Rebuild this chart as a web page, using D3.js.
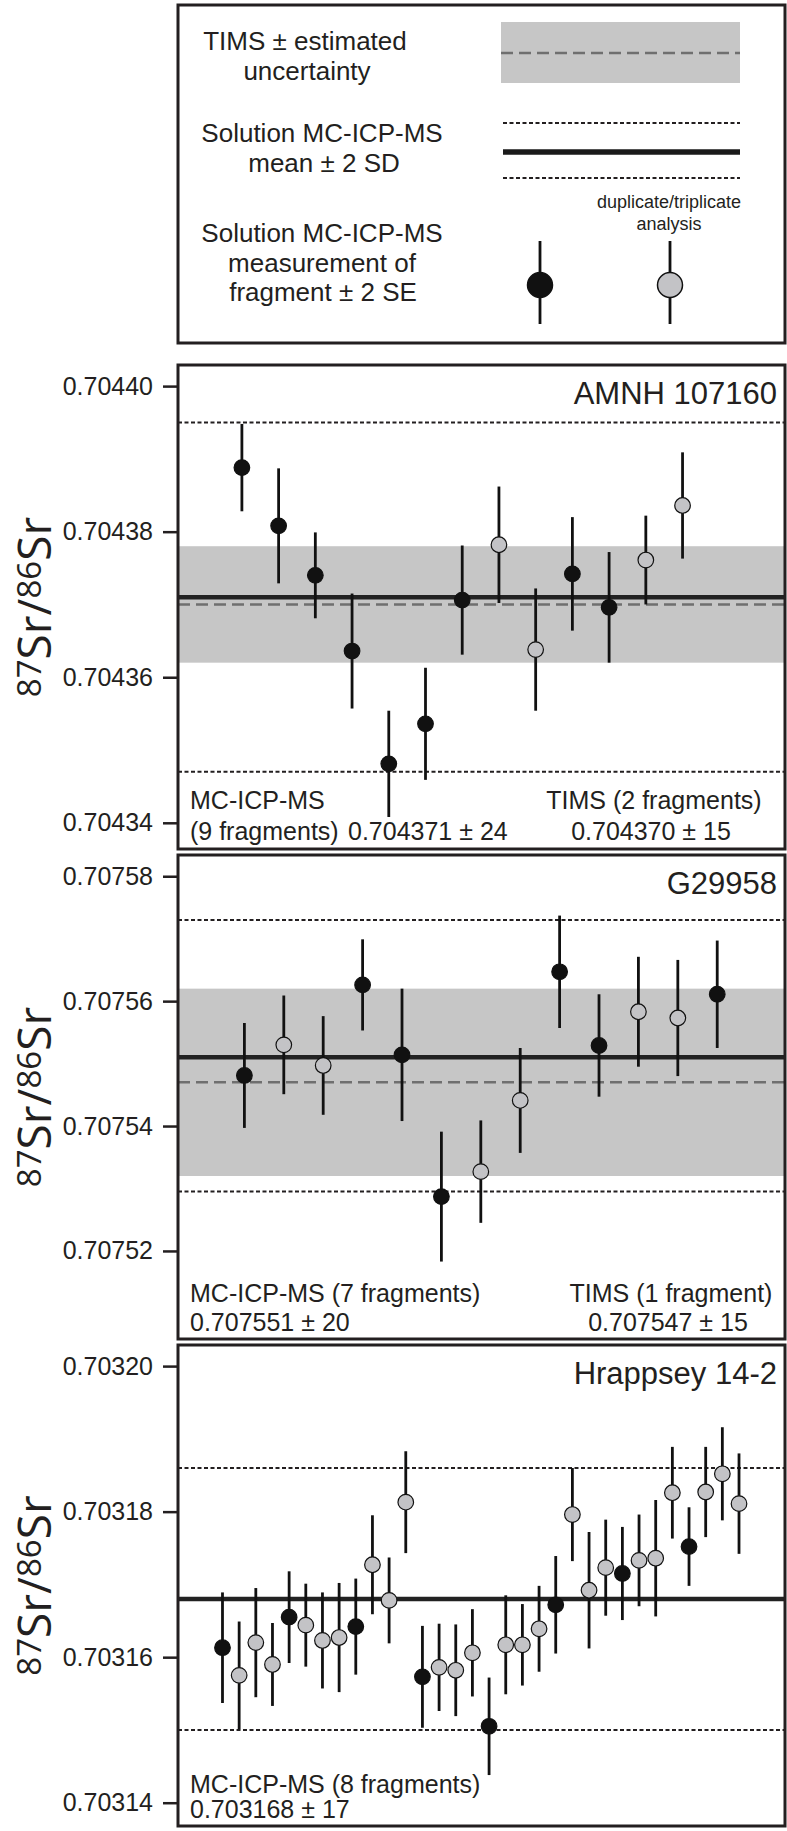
<!DOCTYPE html>
<html>
<head>
<meta charset="utf-8">
<script src="https://cdn.jsdelivr.net/npm/d3@7"></script>
<style>
  body { margin: 0; background: #fff; }
  text { font-family: "Liberation Sans", Arial, Helvetica, sans-serif; fill: #231f20; }
</style>
</head>
<body>
<script>
// canvas
var width = 787;
var height = 1831;
var left = 178, right = 785;
var ink = "#231f20";

// ---- AMNH 107160 ----
var amnhValues = [0.7043888, 0.7043808, 0.7043740, 0.7043636, 0.7043481, 0.7043536, 0.7043706,
                  0.7043782, 0.7043638, 0.7043742, 0.7043696, 0.7043761, 0.7043836];
var amnhErrors = [0.0000060, 0.0000079, 0.0000059, 0.0000079, 0.0000073, 0.0000077, 0.0000075,
                  0.0000080, 0.0000084, 0.0000078, 0.0000076, 0.0000061, 0.0000073];
var amnhRepeat = [0, 0, 0, 0, 0, 0, 0, 1, 1, 0, 0, 1, 1];
var amnhTicks = [0.70434, 0.70436, 0.70438, 0.70440];
var amnhDomain = [0.7043364, 0.7044029];
var amnhMean = 0.704371;
var amnhSD = [0.704347, 0.704395];
var amnhTims = 0.704370;
var amnhTimsBand = [0.704362, 0.704378];

// ---- G29958 ----
var gValues = [0.7075481, 0.7075530, 0.7075497, 0.7075626, 0.7075514, 0.7075287, 0.7075327,
               0.7075441, 0.7075647, 0.7075529, 0.7075583, 0.7075573, 0.7075611];
var gErrors = [0.0000084, 0.0000079, 0.0000079, 0.0000073, 0.0000106, 0.0000104, 0.0000082,
               0.0000084, 0.0000090, 0.0000082, 0.0000088, 0.0000093, 0.0000086];
var gRepeat = [0, 1, 1, 0, 0, 0, 1, 1, 0, 0, 1, 1, 0];
var gTicks = [0.70752, 0.70754, 0.70756, 0.70758];
var gDomain = [0.7075059, 0.7075834];
var gMean = 0.707551;
var gSD = [0.7075295, 0.7075730];
var gTims = 0.707547;
var gTimsBand = [0.707532, 0.707562];

// ---- Hrappsey 14-2 ----
var hValues = [0.7031613, 0.7031575, 0.7031620, 0.7031590, 0.7031655, 0.7031644, 0.7031623, 0.7031627,
               0.7031642, 0.7031727, 0.7031678, 0.7031813, 0.7031573, 0.7031586, 0.7031582, 0.7031606,
               0.7031505, 0.7031617, 0.7031617, 0.7031639, 0.7031672, 0.7031796, 0.7031692, 0.7031723,
               0.7031715, 0.7031733, 0.7031736, 0.7031826, 0.7031752, 0.7031827, 0.7031852, 0.7031811];
var hErrors = [0.0000076, 0.0000074, 0.0000075, 0.0000057, 0.0000063, 0.0000057, 0.0000066, 0.0000075,
               0.0000066, 0.0000068, 0.0000059, 0.0000070, 0.0000070, 0.0000060, 0.0000063, 0.0000060,
               0.0000067, 0.0000068, 0.0000056, 0.0000059, 0.0000067, 0.0000064, 0.0000080, 0.0000066,
               0.0000064, 0.0000063, 0.0000080, 0.0000063, 0.0000054, 0.0000062, 0.0000064, 0.0000069];
var hRepeat = [0, 1, 1, 1, 0, 1, 1, 1, 0, 1, 1, 1, 0, 1, 1, 1,
               0, 1, 1, 1, 0, 1, 1, 1, 0, 1, 1, 1, 0, 1, 1, 1];
var hTicks = [0.70314, 0.70316, 0.70318, 0.70320];
var hDomain = [0.7031368, 0.7032029];
var hMean = 0.703168;
var hSD = [0.703150, 0.703186];

// Create the SVG canvas
var svg = d3.select("body")
            .append("svg")
            .attr("width", width)
            .attr("height", height);

// panel setup, built from the arrays above
var panels = [
  { name: "AMNH 107160", values: amnhValues, errors: amnhErrors, repeat: amnhRepeat,
    ticks: amnhTicks, domain: amnhDomain, mean: amnhMean, sd: amnhSD,
    tims: amnhTims, band: amnhTimsBand, xDomain: [-0.74, 15.79], top: 365, bottom: 849,
    notes: [
      { t: "MC-ICP-MS", x: 190, y: 809, a: "start" },
      { t: "(9 fragments)", x: 190, y: 840, a: "start" },
      { t: "0.704371 \u00b1 24", x: 348, y: 840, a: "start" },
      { t: "TIMS (2 fragments)", x: 654, y: 809, a: "middle" },
      { t: "0.704370 \u00b1 15", x: 651, y: 840, a: "middle" }
    ] },
  { name: "G29958", values: gValues, errors: gErrors, repeat: gRepeat,
    ticks: gTicks, domain: gDomain, mean: gMean, sd: gSD,
    tims: gTims, band: gTimsBand, xDomain: [-0.685, 14.72], top: 855, bottom: 1339,
    notes: [
      { t: "MC-ICP-MS (7 fragments)", x: 190, y: 1302, a: "start" },
      { t: "0.707551 \u00b1 20", x: 190, y: 1331, a: "start" },
      { t: "TIMS (1 fragment)", x: 671, y: 1302, a: "middle" },
      { t: "0.707547 \u00b1 15", x: 668, y: 1331, a: "middle" }
    ] },
  { name: "Hrappsey 14-2", values: hValues, errors: hErrors, repeat: hRepeat,
    ticks: hTicks, domain: hDomain, mean: hMean, sd: hSD,
    tims: null, band: null, xDomain: [-1.67, 34.76], top: 1345, bottom: 1826,
    notes: [
      { t: "MC-ICP-MS (8 fragments)", x: 190, y: 1793, a: "start" },
      { t: "0.703168 \u00b1 17", x: 190, y: 1818, a: "start" }
    ] }
];

panels.forEach(function(p) {
  var g = svg.append("g");
  var x = d3.scaleLinear().domain(p.xDomain).range([left, right]);
  var y = d3.scaleLinear().domain(p.domain).range([p.bottom, p.top]);

  // TIMS band
  if (p.band) {
    g.append("rect")
     .attr("x", left).attr("width", right - left)
     .attr("y", y(p.band[1])).attr("height", y(p.band[0]) - y(p.band[1]))
     .attr("fill", "#c6c6c6");
  }

  // 2 SD lines
  g.selectAll(".sd")
   .data(p.sd)
   .enter()
   .append("line")
   .attr("x1", left).attr("x2", right)
   .attr("y1", function(d) { return y(d); })
   .attr("y2", function(d) { return y(d); })
   .attr("stroke", ink).attr("stroke-width", 2)
   .attr("stroke-dasharray", "4,2.5");

  // mean line
  g.append("line")
   .attr("x1", left).attr("x2", right)
   .attr("y1", y(p.mean)).attr("y2", y(p.mean))
   .attr("stroke", "#222").attr("stroke-width", 4.5);

  // TIMS value
  if (p.tims != null) {
    g.append("line")
     .attr("x1", left).attr("x2", right)
     .attr("y1", y(p.tims)).attr("y2", y(p.tims))
     .attr("stroke", "#6f6f6f").attr("stroke-width", 2.5)
     .attr("stroke-dasharray", "12,6");
  }

  var pts = p.values.map(function(v, i) {
    return { i: i + 1, v: v, e: p.errors[i], rep: p.repeat[i] };
  });

  // error bars
  g.selectAll(".bar")
   .data(pts)
   .enter()
   .append("line")
   .attr("x1", function(d) { return x(d.i); })
   .attr("x2", function(d) { return x(d.i); })
   .attr("y1", function(d) { return y(d.v - d.e); })
   .attr("y2", function(d) { return y(d.v + d.e); })
   .attr("stroke", "#111").attr("stroke-width", 2.8);

  // markers
  g.selectAll(".pt")
   .data(pts)
   .enter()
   .append("circle")
   .attr("cx", function(d) { return x(d.i); })
   .attr("cy", function(d) { return y(d.v); })
   .attr("r", 7.8)
   .attr("fill", function(d) { return d.rep ? "#c3c3c6" : "#111"; })
   .attr("stroke", "#111").attr("stroke-width", 1.2);

  // frame
  g.append("rect")
   .attr("x", left).attr("y", p.top)
   .attr("width", right - left).attr("height", p.bottom - p.top)
   .attr("fill", "none").attr("stroke", ink).attr("stroke-width", 3);

  // y axis
  var axis = g.append("g")
   .attr("transform", "translate(" + left + ",0)")
   .call(d3.axisLeft(y).tickValues(p.ticks).tickSize(15).tickPadding(10).tickFormat(d3.format(".5f")));
  axis.select(".domain").remove();
  axis.selectAll("line").attr("stroke", ink).attr("stroke-width", 2.5);
  axis.selectAll("text").attr("font-size", 25).attr("fill", ink)
      .style("font-family", "'Liberation Sans', Arial, sans-serif");

  // sample name
  g.append("text")
   .attr("x", 777).attr("y", p.top + 39)
   .attr("text-anchor", "end")
   .attr("font-size", 31)
   .text(p.name);

  // notes
  g.selectAll(".note")
   .data(p.notes)
   .enter()
   .append("text")
   .attr("x", function(d) { return d.x; })
   .attr("y", function(d) { return d.y; })
   .attr("text-anchor", function(d) { return d.a; })
   .attr("font-size", 25)
   .text(function(d) { return d.t; });

  // y label 87Sr/86Sr
  var lab = g.append("text")
   .attr("transform", "translate(51," + ((p.top + p.bottom) / 2) + ") rotate(-90)")
   .attr("text-anchor", "middle")
   .style("font-family", "'Open Sans', 'Noto Sans', sans-serif")
   .attr("font-size", 46);
  lab.append("tspan").attr("font-size", 33).attr("dy", -10).text("87");
  lab.append("tspan").attr("dy", 10).text("Sr/");
  lab.append("tspan").attr("font-size", 33).attr("dy", -10).text("86");
  lab.append("tspan").attr("dy", 10).text("Sr");
});

// ---- legend box ----
var leg = svg.append("g");
leg.append("rect")
   .attr("x", left).attr("y", 5)
   .attr("width", right - left).attr("height", 338)
   .attr("fill", "none").attr("stroke", ink).attr("stroke-width", 3);

var legText = [
  { t: "TIMS \u00b1 estimated", x: 305, y: 50 },
  { t: "uncertainty", x: 307, y: 80 },
  { t: "Solution MC-ICP-MS", x: 322, y: 142 },
  { t: "mean \u00b1 2 SD", x: 324, y: 172 },
  { t: "Solution MC-ICP-MS", x: 322, y: 242 },
  { t: "measurement of", x: 322, y: 272 },
  { t: "fragment \u00b1 2 SE", x: 323, y: 301 }
];
leg.selectAll(".lt")
   .data(legText)
   .enter()
   .append("text")
   .attr("x", function(d) { return d.x; })
   .attr("y", function(d) { return d.y; })
   .attr("text-anchor", "middle")
   .attr("font-size", 26)
   .text(function(d) { return d.t; });

leg.selectAll(".small")
   .data(["duplicate/triplicate", "analysis"])
   .enter()
   .append("text")
   .attr("x", 669)
   .attr("y", function(d, i) { return 208 + i * 22; })
   .attr("text-anchor", "middle")
   .attr("font-size", 18)
   .text(function(d) { return d; });

// TIMS swatch
leg.append("rect").attr("x", 501).attr("y", 22).attr("width", 239).attr("height", 61).attr("fill", "#c6c6c6");
leg.append("line").attr("x1", 501).attr("x2", 740).attr("y1", 53).attr("y2", 53)
   .attr("stroke", "#6f6f6f").attr("stroke-width", 2.5).attr("stroke-dasharray", "12,6");

// mean +- 2SD swatch
leg.selectAll(".sdl")
   .data([123, 178])
   .enter()
   .append("line")
   .attr("x1", 503).attr("x2", 740)
   .attr("y1", function(d) { return d; }).attr("y2", function(d) { return d; })
   .attr("stroke", ink).attr("stroke-width", 2).attr("stroke-dasharray", "4,2.5");
leg.append("line").attr("x1", 503).attr("x2", 740).attr("y1", 152).attr("y2", 152)
   .attr("stroke", "#1a1a1a").attr("stroke-width", 5.5);

// marker swatches
leg.selectAll(".mk")
   .data([{ x: 540, fill: "#111" }, { x: 670, fill: "#c3c3c6" }])
   .enter()
   .append("g")
   .each(function(d) {
     var m = d3.select(this);
     m.append("line").attr("x1", d.x).attr("x2", d.x).attr("y1", 241).attr("y2", 324)
      .attr("stroke", "#111").attr("stroke-width", 2.8);
     m.append("ellipse").attr("cx", d.x).attr("cy", 285).attr("rx", 12.5).attr("ry", 12.5)
      .attr("fill", d.fill).attr("stroke", "#111").attr("stroke-width", 1.5);
   });
</script>
</body>
</html>
